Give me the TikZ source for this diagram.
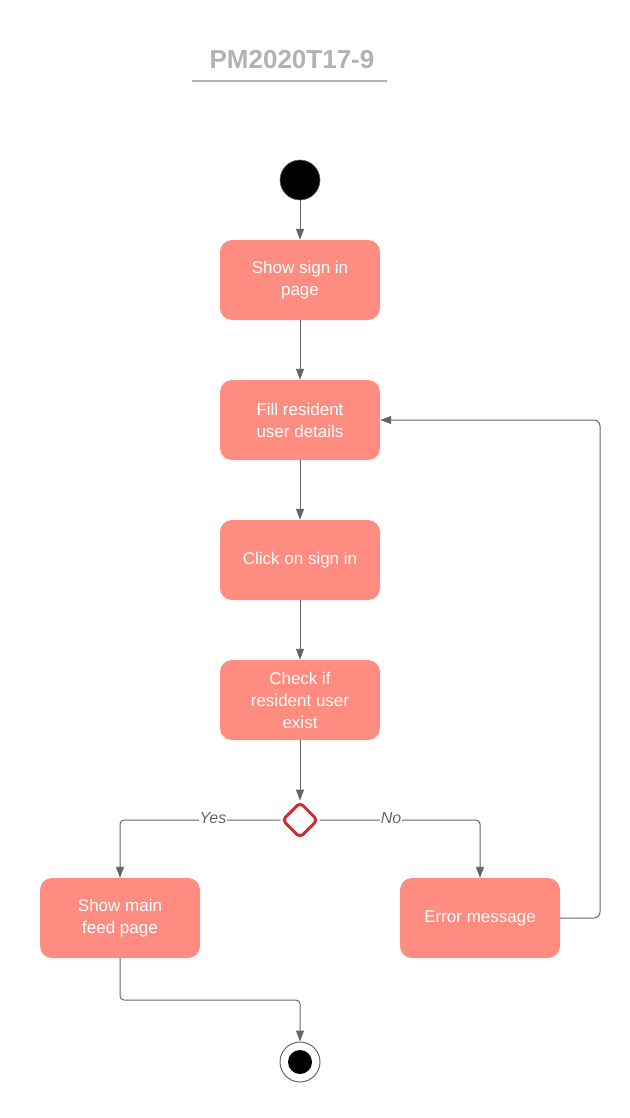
\documentclass[tikz,border=0pt]{standalone}
\usepackage{fontspec}
\setmainfont{Liberation Sans}
\usetikzlibrary{arrows.meta,shapes.geometric}
\definecolor{salmon}{RGB}{255,140,128}
\definecolor{linegray}{RGB}{102,102,102}
\definecolor{titlegray}{RGB}{178,178,178}
\definecolor{decred}{RGB}{201,45,57}
\tikzset{
  act/.style={fill=salmon, draw=none, rounded corners=12pt, minimum width=160pt, minimum height=80pt,
    text=white, align=center, font=\fontsize{17}{22}\selectfont, inner sep=0pt},
  flow/.style={draw=linegray, line width=1pt, -{Triangle[length=11pt,width=8pt]}},
  guard/.style={fill=white, text=linegray, font=\fontsize{16}{18}\selectfont\itshape, inner sep=1pt},
}
\begin{document}
\begin{tikzpicture}[x=1pt,y=-1pt]
\useasboundingbox (0,0) rectangle (629,1118);
% title
\node[text=titlegray, font=\fontsize{26}{30}\selectfont\bfseries] (title) at (292,60) {PM2020T17-9};
\draw[titlegray, line width=1.2pt] (192,81) -- (387,81);
% initial and final states
\node[circle, fill=black, draw=linegray, line width=0.6pt, minimum size=40pt, inner sep=0pt] (start) at (300,180) {};
\node[circle, fill=white, draw=linegray, line width=1pt, minimum size=40pt, inner sep=0pt] (stop) at (300,1062) {};
\node[circle, fill=black, minimum size=24pt, inner sep=0pt] at (stop) {};
% activities
\node[act] (show) at (300,280) {Show sign in\\page};
\node[act] (fill) at (300,420) {Fill resident\\user details};
\node[act] (click) at (300,560) {Click on sign in};
\node[act] (check) at (300,700) {Check if\\resident user\\exist};
\node[act] (feed) at (120,918) {Show main\\feed page};
\node[act] (err) at (480,918) {Error message};
% decision
\node[diamond, draw=decred, fill=white, line width=3pt, rounded corners=4pt, minimum size=36pt, inner sep=0pt] (dec) at (300,820) {};
% flows
\draw[flow] (start) -- (show);
\draw[flow] (show) -- (fill);
\draw[flow] (fill) -- (click);
\draw[flow] (click) -- (check);
\draw[flow] (check) -- (dec);
\draw[flow, rounded corners=4pt] (dec.west) -- (120,820) -- (feed.north);
\draw[flow, rounded corners=4pt] (dec.east) -- (480,820) -- (err.north);
\node[guard] (yes) at (213,818) {Yes};
\node[guard] (no) at (391,818) {No};
\draw[flow, rounded corners=6pt] (err.east) -- (600,918) -- (600,420) -- (fill.east);
\draw[flow, rounded corners=4pt] (feed.south) -- (120,1000) -- (300,1000) -- (stop.north);
\end{tikzpicture}
\end{document}
